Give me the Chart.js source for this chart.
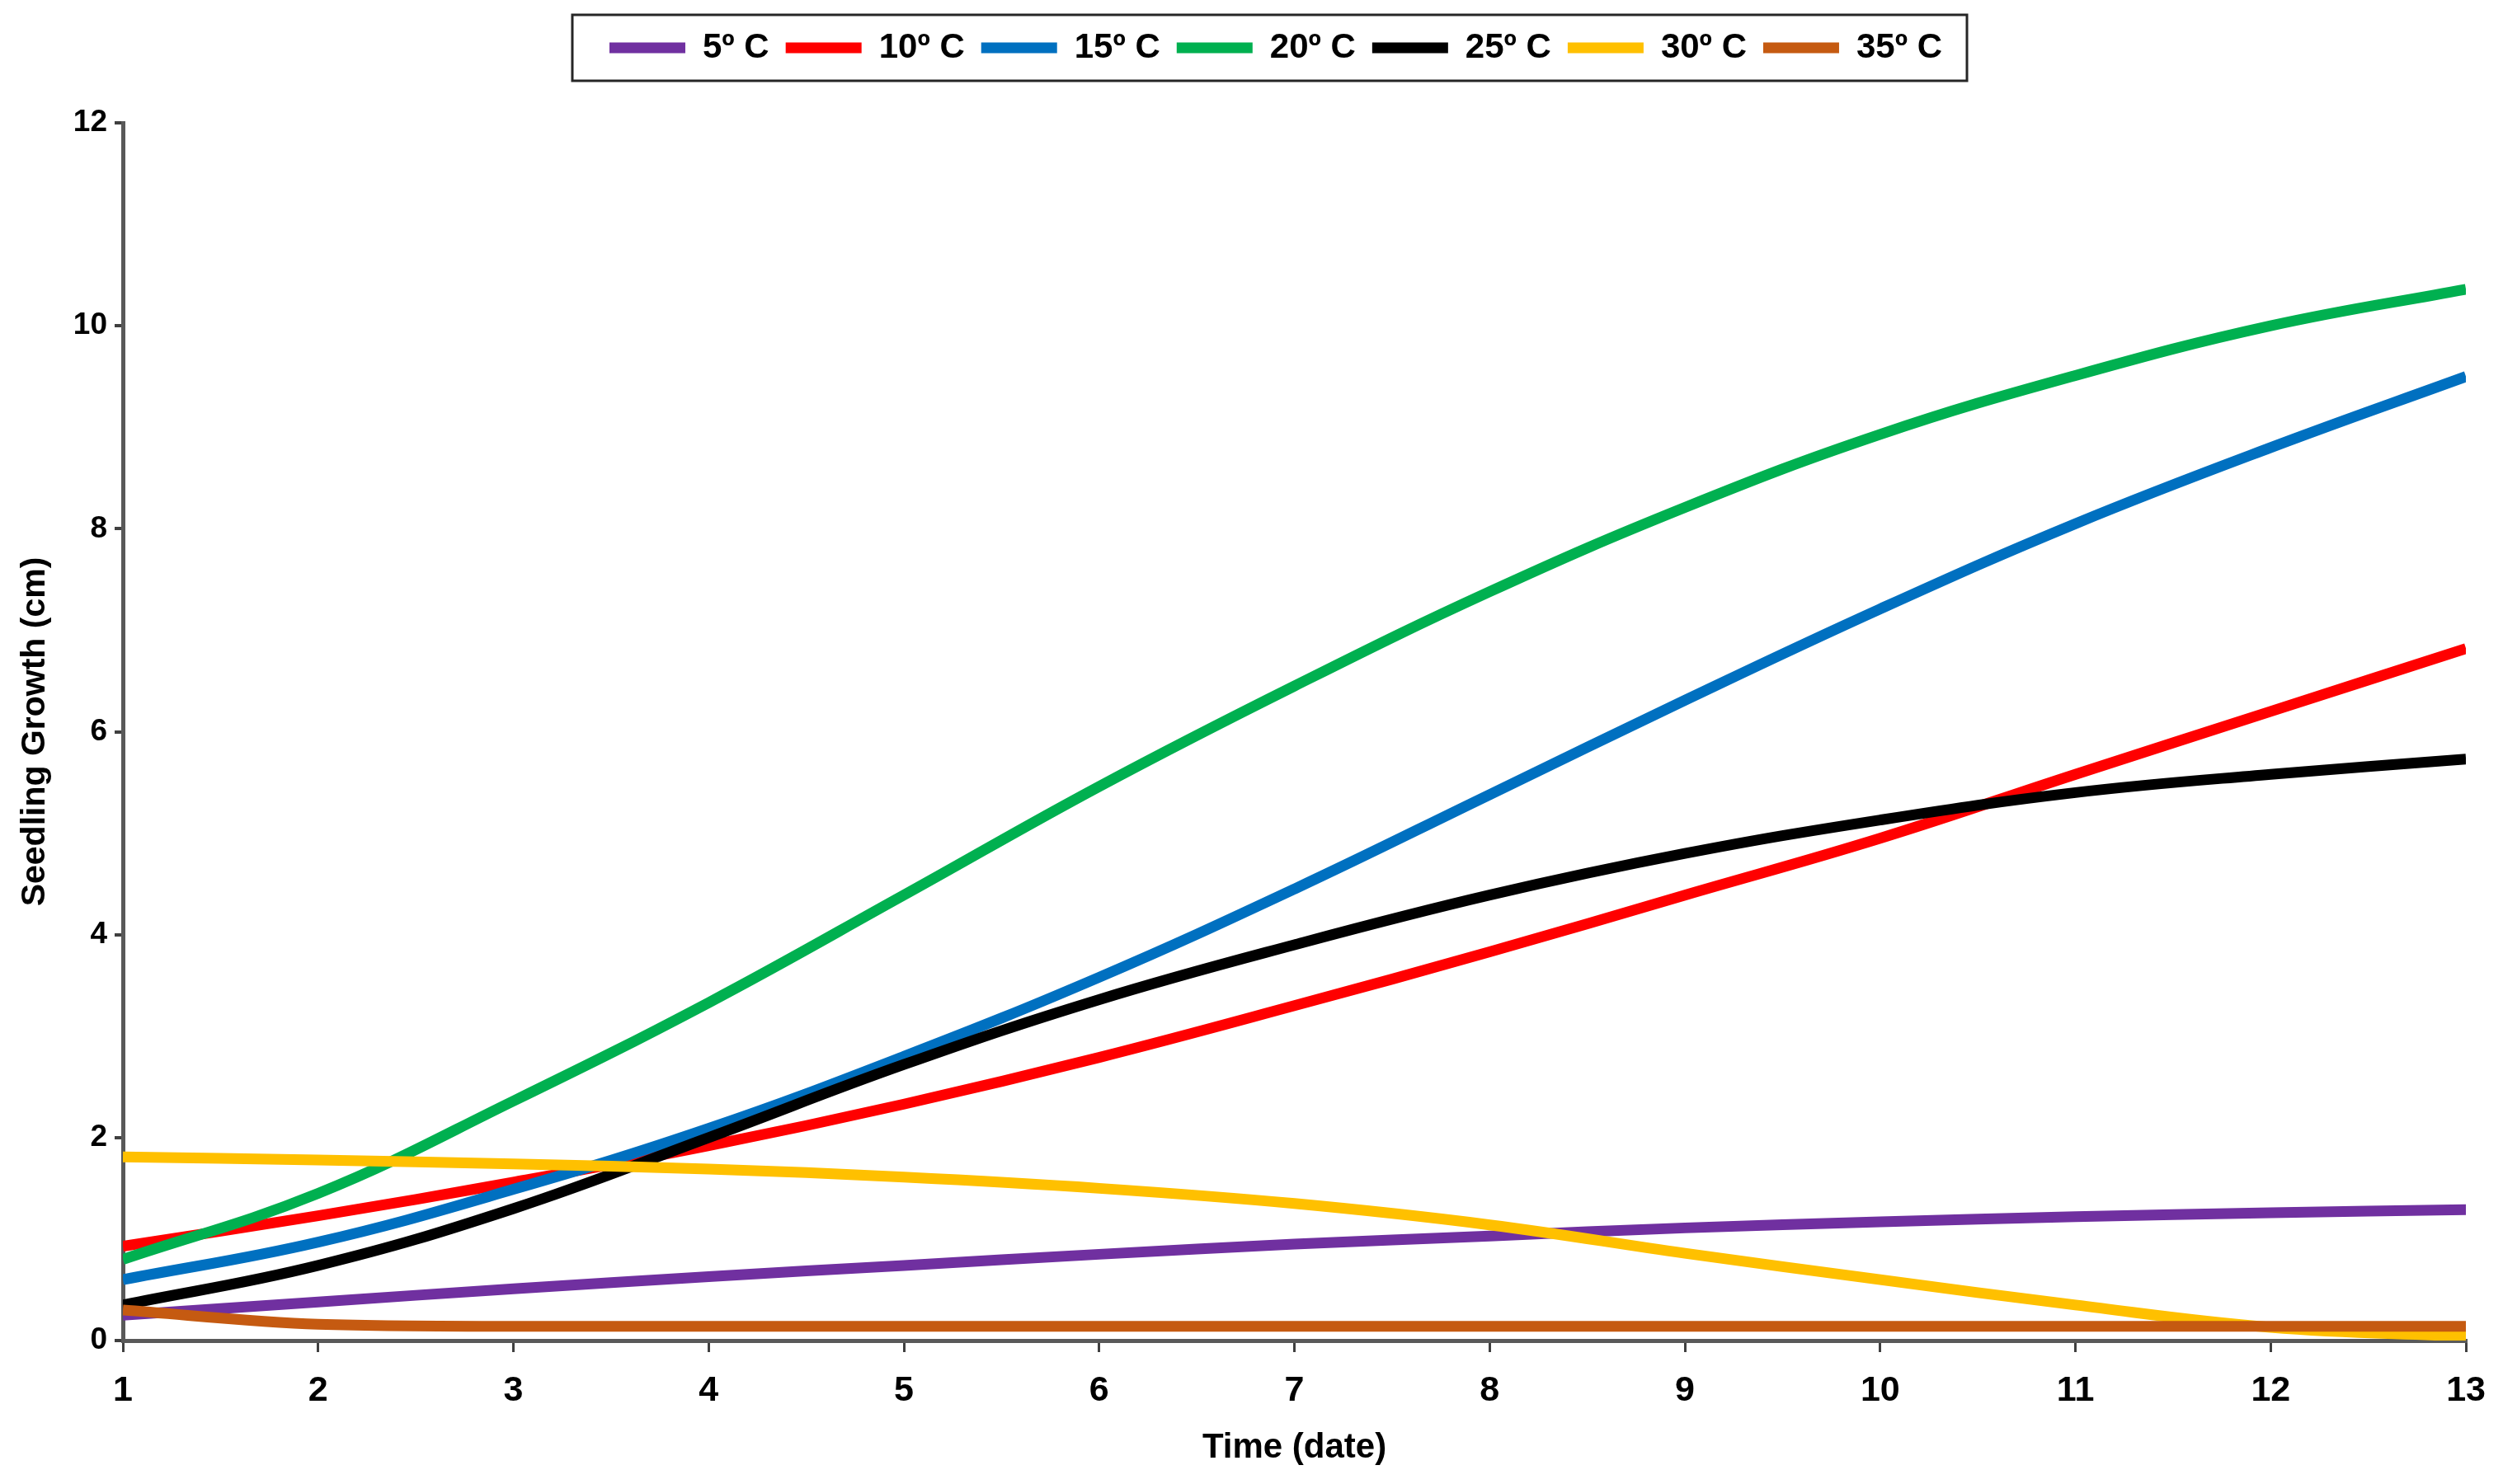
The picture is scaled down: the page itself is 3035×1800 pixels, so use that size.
<!DOCTYPE html>
<html>
<head>
<meta charset="utf-8">
<script src="https://cdn.jsdelivr.net/npm/chart.js@4.4.0/dist/chart.umd.min.js"></script>
<style>
  html, body { margin: 0; padding: 0; background: #ffffff; }
  #wrap { width: 3035px; height: 1800px; position: relative; }
</style>
</head>
<body>
<div id="wrap"><canvas id="c"></canvas></div>
<script>
// ---- data ----
const days = [1, 2, 3, 4, 5, 6, 7, 8, 9, 10, 11, 12, 13];
const xTicks = [1, 2, 3, 4, 5, 6, 7, 8, 9, 10, 11, 12, 13];
const yTicks = [0, 2, 4, 6, 8, 10, 12];
const seriesLabels = ['5º C', '10º C', '15º C', '20º C', '25º C', '30º C', '35º C'];
const t5  = [0.25, 0.38, 0.51, 0.63, 0.74, 0.85, 0.95, 1.03, 1.11, 1.17, 1.22, 1.26, 1.29];
const t10 = [0.93, 1.23, 1.56, 1.92, 2.33, 2.79, 3.30, 3.83, 4.39, 4.95, 5.58, 6.20, 6.82];
const t15 = [0.60, 0.97, 1.49, 2.09, 2.80, 3.58, 4.45, 5.38, 6.31, 7.21, 8.05, 8.80, 9.50];
const t20 = [0.80, 1.45, 2.36, 3.33, 4.39, 5.46, 6.45, 7.38, 8.21, 8.93, 9.51, 10.00, 10.36];
const t25 = [0.35, 0.74, 1.30, 2.00, 2.72, 3.36, 3.90, 4.39, 4.80, 5.13, 5.40, 5.58, 5.73];
const t30 = [1.81, 1.78, 1.74, 1.69, 1.61, 1.50, 1.35, 1.14, 0.86, 0.60, 0.35, 0.13, 0.04];
const t35 = [0.30, 0.16, 0.14, 0.14, 0.14, 0.14, 0.14, 0.14, 0.14, 0.14, 0.14, 0.14, 0.14];
const seriesValues = [t5, t10, t15, t20, t25, t30, t35];
const seriesColors = ['#7030A0', '#FF0000', '#0070C0', '#00B050', '#000000', '#FFC000', '#C55A11'];

Chart.defaults.font.family = "'Liberation Sans', Arial, sans-serif";
Chart.defaults.font.weight = 'bold';
Chart.defaults.color = '#000000';

const datasets = seriesValues.map((vals, i) => ({
  label: seriesLabels[i],
  data: days.map((d, j) => ({ x: d, y: vals[j] })),
  borderColor: seriesColors[i],
  backgroundColor: seriesColors[i],
  borderWidth: 13,
  pointRadius: 0,
  pointHoverRadius: 0,
  tension: 0.4,
  cubicInterpolationMode: i === 6 ? 'monotone' : 'default',
  fill: false,
  order: seriesValues.length - i
}));

const legendFix = {
  id: 'legendFix',
  beforeInit(chart) {
    const lg = chart.legend;
    const fit = lg.fit;
    lg.fit = function () { fit.call(this); this.height = 132; };
  },
  afterLayout(chart) {
    const lg = chart.legend;
    lg.left += 25;
    lg.right += 25;
  },
  afterDraw(chart) {
    const hb = chart.legend.legendHitBoxes;
    if (!hb || !hb.length) return;
    const first = hb[0], last = hb[hb.length - 1];
    const ctx = chart.ctx;
    ctx.save();
    ctx.strokeStyle = '#262626';
    ctx.lineWidth = 3;
    const left = first.left - 45;
    const right = last.left + last.width + 30;
    ctx.strokeRect(left, 18, right - left, 80);
    ctx.restore();
  }
};

new Chart(document.getElementById('c'), {
  type: 'line',
  data: { datasets },
  plugins: [legendFix],
  options: {
    responsive: true,
    maintainAspectRatio: false,
    devicePixelRatio: 1,
    animation: false,
    layout: { padding: { top: 17, left: 50, right: 41, bottom: 0 } },
    plugins: {
      tooltip: { enabled: false },
      legend: {
        display: true,
        position: 'top',
        align: 'center',
        labels: {
          usePointStyle: true,
          pointStyle: 'line',
          pointStyleWidth: 92,
          padding: 20,
          color: '#000000',
          font: { size: 42, weight: 'bold' },
          sort: (a, b) => a.datasetIndex - b.datasetIndex
        }
      }
    },
    scales: {
      x: {
        type: 'linear',
        min: 1,
        max: 13,
        afterBuildTicks: s => { s.ticks = xTicks.map(v => ({ value: v })); },
        afterFit: s => { s.height = 174; },
        border: { display: true, color: '#595959', width: 5 },
        grid: { drawOnChartArea: false, drawTicks: true, tickLength: 14, color: '#404040', lineWidth: 3 },
        ticks: { padding: 21, font: { size: 43, weight: 'bold' }, color: '#000000', maxRotation: 0 },
        title: { display: true, text: 'Time (date)', font: { size: 42, weight: 'bold' }, color: '#000000', padding: { top: 0, bottom: 18 } }
      },
      y: {
        type: 'linear',
        min: 0,
        max: 12,
        afterBuildTicks: s => { s.ticks = yTicks.map(v => ({ value: v })); },
        afterFit: s => { s.width = 99; },
        border: { display: true, color: '#595959', width: 5 },
        grid: { drawOnChartArea: false, drawTicks: true, tickLength: 10, color: '#404040', lineWidth: 4 },
        ticks: { padding: 9, font: { size: 37, weight: 'bold' }, color: '#000000' },
        title: { display: true, text: 'Seedling Growth (cm)', font: { size: 41, weight: 'bold' }, color: '#000000', padding: { top: -32, bottom: 0 } }
      }
    }
  }
});
</script>
</body>
</html>
